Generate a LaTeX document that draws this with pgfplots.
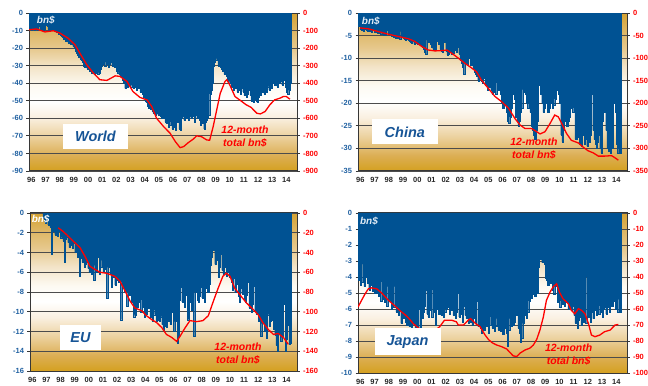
\documentclass[border=0pt]{standalone}
\usepackage{pgfplots}
\pgfplotsset{compat=1.18}
\usepackage{pgfplotstable}
\usepackage{fontspec}
\setmainfont{Liberation Sans}
\definecolor{barblue}{RGB}{0,82,147}
\definecolor{tickblue}{RGB}{30,95,160}
\definecolor{lblblue}{RGB}{22,84,150}
\definecolor{bnc}{RGB}{225,235,245}
\definecolor{frame}{RGB}{55,55,55}
\definecolor{gA}{RGB}{212,160,32}
\definecolor{gB}{RGB}{220,175,85}
\definecolor{gC}{RGB}{236,210,160}
\definecolor{gD}{RGB}{250,240,225}
\definecolor{gE}{RGB}{253,250,242}
\definecolor{gF}{RGB}{243,228,200}
\definecolor{gG}{RGB}{230,200,140}
\definecolor{gH}{RGB}{220,180,95}
\definecolor{gI}{RGB}{212,162,50}
\pgfdeclareverticalshading{bg}{100bp}{color(0bp)=(gA); color(25bp)=(gA); color(30bp)=(gB); color(36bp)=(gC); color(42bp)=(gD); color(47bp)=(white); color(52bp)=(gE); color(58bp)=(gF); color(64bp)=(gG); color(70bp)=(gH); color(75bp)=(gI); color(100bp)=(gI)}

\pgfplotstableread[header=false,row sep=\\]{
-9\\-7\\-9.5\\-9\\-9.5\\-8.5\\-9\\-9.5\\-7.5\\-9.5\\-9\\-10\\
-9.5\\-9\\-7\\-7.5\\-9.5\\-10\\-10\\-9.5\\-10\\-10.5\\-10\\-11\\
-11\\-12\\-12.5\\-13\\-14\\-15\\-15\\-16\\-16\\-17\\-17\\-18\\
-18\\-19\\-20\\-22\\-23\\-24\\-25\\-26\\-27\\-28\\-30\\-31\\
-31\\-32\\-32\\-33\\-32\\-34\\-33\\-35\\-34\\-33\\-35\\-34\\
-32\\-30\\-29\\-28\\-30\\-28\\-29\\-31\\-29\\-28\\-30\\-29\\
-31\\-30\\-33\\-34\\-35\\-36\\-36\\-38\\-40\\-43\\-39\\-42\\
-41\\-40\\-42\\-41\\-43\\-40\\-42\\-44\\-43\\-42\\-45\\-44\\
-46\\-48\\-50\\-51\\-53\\-54\\-52\\-55\\-56\\-57\\-56\\-58\\
-57\\-58\\-57\\-59\\-60\\-58\\-60\\-62\\-63\\-61\\-65\\-64\\
-62\\-66\\-63\\-65\\-67\\-62\\-61\\-66\\-67\\-60\\-59\\-61\\
-59\\-60\\-58\\-61\\-59\\-60\\-58\\-59\\-62\\-58\\-60\\-59\\
-61\\-64\\-60\\-63\\-66\\-62\\-61\\-60\\-58\\-46\\-44\\-40\\
-30\\-28\\-27\\-26\\-30\\-28\\-31\\-32\\-33\\-35\\-33\\-36\\
-38\\-40\\-39\\-42\\-41\\-44\\-40\\-43\\-45\\-42\\-44\\-46\\
-43\\-45\\-47\\-45\\-48\\-46\\-44\\-47\\-50\\-48\\-51\\-49\\
-50\\-51\\-48\\-46\\-47\\-45\\-44\\-46\\-43\\-45\\-42\\-44\\
-41\\-43\\-40\\-37\\-41\\-38\\-42\\-37\\-40\\-39\\-41\\-37\\
-38\\-42\\-45\\-46\\-44\\-40\\
}\worldbars

\pgfplotstableread[header=false,row sep=\\]{
-3\\-2.6\\-3.5\\-3.8\\-4\\-3.2\\-3.6\\-3.9\\-4\\-4.1\\-3.7\\-4.2\\
-2.8\\-3.5\\-4.3\\-4.2\\-4.4\\-3.9\\-4.5\\-4.6\\-4.3\\-4.8\\-4.7\\-5\\
-3.8\\-4.5\\-4.9\\-5\\-5.1\\-4.7\\-5.3\\-5.5\\-5.2\\-5.6\\-5.5\\-5.8\\
-4.1\\-5.3\\-5.6\\-5.8\\-6\\-5.7\\-6\\-6.2\\-6.4\\-6.6\\-6.3\\-6.8\\
-6.2\\-6.7\\-6.9\\-7\\-7.2\\-6.8\\-7.5\\-8\\-8.7\\-9.2\\-6\\-6.5\\
-6\\-6.8\\-7.5\\-8\\-8.3\\-8.1\\-6.2\\-5.8\\-7\\-8\\-8.4\\-8.6\\
-5.6\\-6.5\\-8.5\\-9.3\\-9\\-8.2\\-8.5\\-9\\-8.8\\-6.4\\-8.2\\-8.6\\
-7.5\\-9\\-10.5\\-11\\-12\\-13.5\\-11\\-10.5\\-11.5\\-8.5\\-10\\-11.5\\
-11\\-12.5\\-13\\-13.5\\-14\\-15\\-14.5\\-14\\-15\\-15.5\\-14.5\\-16\\
-16\\-17\\-15\\-16.5\\-17\\-18\\-16\\-17.5\\-18\\-15.5\\-17\\-16\\
-18\\-20\\-21\\-20.5\\-19\\-22\\-24\\-24.5\\-23\\-21\\-18\\-17.5\\
-19\\-23\\-24\\-25\\-24\\-22\\-21\\-17\\-17.5\\-18\\-20\\-21\\
-20\\-22\\-25\\-26\\-27\\-28\\-26\\-24\\-16\\-15.5\\-18\\-20\\
-22\\-21\\-19\\-20\\-22\\-21\\-20\\-19\\-21\\-20.5\\-19\\-17\\
-17\\-18\\-20\\-27\\-28.5\\-26\\-19.5\\-24\\-25\\-24\\-23\\-21\\
-20\\-22\\-21\\-28\\-28\\-27.5\\-26\\-29\\-29.5\\-21\\-27\\-29\\
-28\\-29.5\\-22\\-28.5\\-27\\-18\\-26\\-28\\-29\\-30\\-28.5\\-27\\
-30\\-31\\-24\\-21\\-22\\-26\\-30\\-30.5\\-29\\-31\\-30\\-20\\
-19\\-22\\-29\\-31\\-30\\-31\\
}\chinabars

\pgfplotstableread[header=false,row sep=\\]{
-0.5\\-0.8\\-1\\-0.6\\-1.2\\-1.1\\-1.4\\-4.2\\-1.5\\-1.8\\-2.2\\-1.6\\-2.3\\
-1.8\\-0.1\\-2.5\\-2.2\\-2.8\\-5\\-2.6\\-2.4\\-3\\-3.5\\-2.8\\-3.3\\
-3.6\\-3.1\\-4\\-3.8\\-4.5\\-4.2\\-6.4\\-4.6\\-5\\-4.8\\-5.5\\-5.2\\
-5\\-5.6\\-6\\-5.4\\-6.2\\-5.8\\-6.8\\-5.3\\-6\\-4.5\\-3.5\\-6.2\\
-5.5\\-4.8\\-6\\-5.5\\-5.7\\-8.6\\-5.5\\-5\\-6.2\\-7.5\\-5.8\\-6.5\\
-7.3\\-6.8\\-6\\-7\\-6.5\\-10.8\\-7\\-7.5\\-8\\-7.2\\-9.4\\-8\\
-8.3\\-7.8\\-9\\-8.5\\-10.5\\-10.3\\-8.2\\-9.5\\-7.7\\-9\\-10\\-8.8\\
-9.5\\-10.5\\-9\\-10.2\\-9.6\\-7.8\\-10.5\\-10\\-11\\-10.3\\-9.8\\-11\\
-10.2\\-10.8\\-11\\-10.5\\-11.3\\-11.9\\-11.5\\-10.8\\-11.6\\-11\\-7.8\\-11.3\\
-10\\-8.5\\-12\\-11\\-10.2\\-13.2\\-12.5\\-8.8\\-7.5\\-9\\-8.2\\-9.5\\
-8\\-8.3\\-10.8\\-9\\-8.5\\-9.8\\-9.2\\-12.5\\-8\\-7.2\\-8.8\\-9\\
-8.4\\-7.5\\-8.6\\-6.6\\-9\\-7.6\\-6.2\\-8\\-7.2\\-5.3\\-4.5\\-3.2\\
-3.8\\-5.2\\-2.9\\-4.8\\-6.5\\-5.5\\-4.2\\-5.8\\-6.2\\-5.5\\-2.8\\-6.4\\
-6\\-6.5\\-6.3\\-7\\-7.8\\-6.6\\-8\\-7.2\\-7\\-8.4\\-9\\-7.6\\
-8.2\\-7.5\\-8.8\\-9\\-8.3\\-7\\-9.6\\-8.5\\-10\\-9.2\\-7.4\\-9.8\\
-10.2\\-9.5\\-11\\-10\\-12.5\\-11.2\\-10.5\\-12\\-11.5\\-12.7\\-10.3\\-11.5\\
-11\\-10.8\\-7.5\\-11.8\\-12.4\\-13.4\\-14\\-12.2\\-7.6\\-13\\-12.6\\-9\\
-9.2\\-14\\-12.8\\-11.4\\-13.3\\-13.2\\
}\eubars

\pgfplotstableread[header=false,row sep=\\]{
-4.2\\-3.8\\-4.5\\-4.3\\-3.2\\-4.6\\-4\\-3.3\\-4.4\\-4.8\\-4.5\\-4.3\\
-4.9\\-4.6\\-5\\-3.6\\-5\\-5.2\\-4.8\\-5.5\\-4.3\\-5.4\\-5.6\\-5.2\\
-5.8\\-4.6\\-5.5\\-4.9\\-6\\-5.6\\-5.9\\-4.6\\-6.2\\-6\\-6.4\\-6.1\\
-6.9\\-6.3\\-6.6\\-6.2\\-6.8\\-7\\-6.7\\-7.1\\-6.8\\-7.2\\-6.9\\-7\\
-7.3\\-7.1\\-7.4\\-6\\-7.2\\-6.4\\-6.6\\-6.2\\-5.8\\-4.8\\-6.3\\-6.5\\
-5.4\\-6.1\\-6.5\\-4.8\\-6.2\\-7\\-6\\-5.2\\-6.3\\-5.7\\-6.4\\-6.1\\
-6.5\\-6.2\\-6\\-5.9\\-4.6\\-6.3\\-4.8\\-6.1\\-6.4\\-6\\-6.6\\-6.2\\
-5\\-6.5\\-6.3\\-6\\-6.8\\-5.8\\-6.4\\-6.6\\-6.2\\-6.9\\-6.5\\-6.8\\
-7\\-6.6\\-6.3\\-6.9\\-5.5\\-7.1\\-6.8\\-7.2\\-7.5\\-6.9\\-7.3\\-7\\
-7.1\\-6.8\\-7.5\\-7\\-6.5\\-7.2\\-6.9\\-7.4\\-7.1\\-6.6\\-7.3\\-7\\
-7.4\\-6.8\\-7.6\\-7.2\\-7\\-7.5\\-8.3\\-7.3\\-6.6\\-7.1\\-6.5\\-7\\
-6.8\\-6.4\\-5.9\\-7.2\\-7.5\\-8.1\\-7.8\\-6.9\\-6.4\\-5.6\\-6.6\\-6.2\\
-5.5\\-5\\-5.3\\-5.1\\-4.8\\-5.2\\-4.7\\-5\\-3.4\\-2.2\\-2.9\\-3.1\\
-2\\-3.2\\-4.1\\-4.2\\-4.5\\-4\\-4.4\\-3.5\\-4.8\\-5.1\\-4.6\\-3.8\\
-5.6\\-5.2\\-5.9\\-5.5\\-5.7\\-5.3\\-5.8\\-2.8\\-5.6\\-6\\-5.4\\-5.9\\
-6.1\\-5.8\\-6.4\\-6.9\\-6.2\\-7.2\\-6.7\\-6.5\\-7\\-6.3\\-6.8\\-6.6\\
-6.9\\-4\\-6.5\\-6.3\\-6.8\\-6.2\\-6.6\\-4.9\\-6.1\\-6.4\\-6\\-6.3\\
-5.8\\-6.2\\-6.5\\-6\\-5.9\\-6.3\\-5.6\\-5.9\\-6.2\\-5.4\\-5.8\\-5.2\\
-5.5\\-6\\-5.6\\-6.2\\-5.4\\-6.2\\
}\japanbars

\pgfplotsset{
  common/.style={scale only axis, anchor=south west, xmin=0, xmax=227, ymax=0,
    tick align=outside, major tick length=2.5bp,
    major tick style={frame, line width=0.8bp},
    /pgf/number format/assume math mode=true,
    tick label style={font=\fontsize{7.5}{9}\selectfont\bfseries}},
  panel/.style={common,
    axis background/.style={shading=bg},
    axis line style={frame, line width=1bp},
    xtick={2,14,...,218},
    xticklabels={96,97,98,99,00,01,02,03,04,05,06,07,08,09,10,11,12,13,14},
    major x tick style={draw=none},
    xticklabel style={text=black!85, yshift=-0.5bp},
    ytick pos=left,
    yticklabel style={text=tickblue},
    ymajorgrids, major grid style={black!70, line width=0.8bp}},
  rpanel/.style={common, axis x line=none, axis y line*=right,
    axis line style={frame, line width=1bp},
    yticklabel style={text=red}},
  bars/.style={ybar, bar width=1, bar shift=0pt, fill=barblue, draw=barblue, line width=0.25bp},
  tot/.style={red, line width=1.3bp},
}
\tikzset{
  box/.style={fill=white, text=lblblue, font=\fontsize{14.5}{16}\selectfont\bfseries\itshape, inner sep=0pt, minimum height=25bp},
  totlbl/.style={text=red, align=center, font=\fontsize{10.5}{13}\selectfont\bfseries\itshape, inner sep=0pt},
  bnlbl/.style={anchor=west, text=bnc, font=\fontsize{10}{12}\selectfont\bfseries\itshape, inner sep=0pt},
}

\begin{document}
\begin{tikzpicture}
\useasboundingbox (0bp,0bp) rectangle (648bp,386bp);

% ---------------- World
\begin{axis}[panel, at={(29bp,215bp)}, width=268bp, height=158bp, ymin=-90, ytick={-90,-80,...,0}]
\addplot[bars] table[x expr=\coordindex+0.5, y index=0] {\worldbars};
\end{axis}
\begin{axis}[rpanel, at={(29bp,215bp)}, width=268bp, height=158bp, ymin=-900, ytick={-900,-800,...,0}]
\addplot[tot] coordinates {(0,-95)(6.5,-91)(13.5,-108)(20.6,-101)(26,-114)(33,-143)(39,-181)(43,-228)(49,-295)(54.5,-342)(60,-380)(66,-384)(73,-358)(77,-361)(83,-390)(88,-447)(94,-481)(100,-495)(104,-533)(108,-599)(114,-647)(119.5,-685)(124,-733)(128,-767)(131,-761)(135,-738)(139,-719)(142,-700)(146,-704)(150.5,-723)(153,-725)(156,-647)(159,-552)(162,-457)(166,-390)(167.5,-380)(170,-409)(174.5,-476)(179,-498)(184,-523)(188,-537)(193,-571)(196,-575)(200,-561)(204,-523)(208,-495)(212.6,-485)(215.4,-476)(218,-476)(221,-491)};
\node[box, minimum width=65bp] at (rel axis cs:0.248,0.218) {World};
\node[totlbl] at (rel axis cs:0.806,0.215) {12-month\\total bn\$};
\node[bnlbl] at (rel axis cs:0.029,0.956) {bn\$};
\end{axis}

% ---------------- China
\begin{axis}[panel, at={(358bp,215bp)}, width=269bp, height=158bp, ymin=-35, ytick={-35,-30,...,0}]
\addplot[bars] table[x expr=\coordindex+0.5, y index=0] {\chinabars};
\end{axis}
\begin{axis}[rpanel, at={(358bp,215bp)}, width=269bp, height=158bp, ymin=-350, ytick={-350,-300,...,0}]
\addplot[tot] coordinates {(1.7,-33)(8.7,-35)(17,-41)(25.6,-47)(34,-52)(42.5,-57)(48,-63)(53.7,-74)(59.3,-82)(65,-84)(72,-83)(75,-82)(79,-89)(84.7,-100)(90,-111)(96,-122)(100,-130)(104,-148)(110,-167)(115.6,-185)(121,-196)(127,-211)(132.5,-234)(136.7,-248)(141,-256)(146.6,-256)(150.8,-263)(153.6,-268)(157.8,-263)(162,-245)(166,-226)(169,-230)(172,-245)(176,-267)(180,-282)(186,-288)(190,-297)(194,-305)(198.6,-310)(202.8,-317)(208.4,-317)(214,-316)(217,-321)(219.7,-326)};
\node[box, minimum width=66bp] at (rel axis cs:0.174,0.247) {China};
\node[totlbl] at (rel axis cs:0.654,0.139) {12-month\\total bn\$};
\node[bnlbl] at (rel axis cs:0.014,0.946) {bn\$};
\end{axis}

% ---------------- EU
\begin{axis}[panel, at={(30bp,15bp)}, width=267bp, height=158bp, ymin=-16, ytick={-16,-14,...,0}]
\addplot[bars] table[x expr=\coordindex+11.5, y index=0] {\eubars};
\end{axis}
\begin{axis}[rpanel, at={(30bp,15bp)}, width=267bp, height=158bp, ymin=-160, ytick={-160,-140,...,0}]
\addplot[tot] coordinates {(24,-15)(28,-18.5)(32.6,-23.6)(36.8,-28.6)(42.5,-35)(46.8,-44)(51,-54)(55,-57)(59.5,-60)(65,-61)(72,-64)(76.5,-69)(80.8,-79)(85,-89)(89,-96)(95,-99)(99,-104)(103.5,-108)(107.7,-111)(112,-116)(116,-123)(120.5,-126)(124.7,-130)(127.5,-125)(132,-116)(136,-109)(141.7,-110)(147,-109)(151.6,-104)(156,-89)(160,-76)(164,-64)(167,-61)(170,-64)(174,-76)(178.6,-83)(184,-91)(190,-98)(194,-103)(198,-111)(202.6,-118)(207,-123)(211,-122)(215.4,-126)(219.6,-133)};
\node[box, minimum width=41bp] at (rel axis cs:0.189,0.209) {EU};
\node[totlbl] at (rel axis cs:0.779,0.113) {12-month\\total bn\$};
\node[bnlbl, text=white] at (rel axis cs:0.006,0.962) {bn\$};
\end{axis}

% ---------------- Japan
\begin{axis}[panel, at={(358bp,13bp)}, width=269bp, height=160bp, ymin=-10, ytick={-10,-9,...,0}]
\addplot[bars] table[x expr=\coordindex+0.5, y index=0] {\japanbars};
\end{axis}
\begin{axis}[rpanel, at={(358bp,13bp)}, width=269bp, height=160bp, ymin=-100, ytick={-100,-90,...,0}]
\addplot[tot] coordinates {(0,-58.8)(3,-54.6)(6,-50.5)(8.7,-47.4)(11.5,-46.8)(15.8,-47.4)(20,-50)(25.6,-54.5)(31,-58)(35.4,-61)(39.6,-63.5)(42.5,-65.5)(46.5,-69)(49.5,-71)(52.3,-72.5)(55,-73.2)(60,-74)(65,-73.5)(69,-71)(73,-67)(79,-67)(83,-68)(84.6,-70)(89,-70)(93,-67)(95,-66)(99,-69)(103,-71)(107,-76)(110,-79)(113,-81)(117,-82.5)(121,-83.5)(125.5,-85)(128,-87)(131,-89.3)(134,-89.7)(136.7,-87.6)(141,-85.6)(145,-84.5)(148,-82.5)(150.8,-79)(153.6,-73)(156.4,-65)(159,-54.6)(162,-49.5)(164.8,-46)(167.6,-44.3)(170,-49.5)(173,-53.6)(177.5,-56.7)(180,-60.8)(183,-63)(186,-59.8)(188.6,-60.8)(191.6,-63)(194.4,-69)(197,-76.3)(200,-77.3)(204,-76.3)(208,-74.2)(212.7,-73.2)(217,-70)(219.7,-69.7)};
\node[box, minimum width=66bp, minimum height=27bp] at (rel axis cs:0.184,0.196) {Japan};
\node[totlbl] at (rel axis cs:0.783,0.117) {12-month\\total bn\$};
\node[bnlbl] at (rel axis cs:0.007,0.95) {bn\$};
\end{axis}
\end{tikzpicture}
\end{document}
